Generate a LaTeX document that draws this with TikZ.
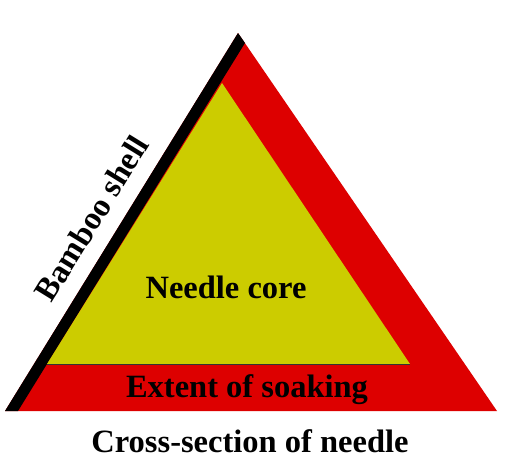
\documentclass[tikz,border=0pt]{standalone}
\usepackage{fontspec}
\setmainfont{Liberation Serif}
\usepackage{xcolor}
\usetikzlibrary{calc}

\definecolor{soakred}{RGB}{221,0,0}
\definecolor{coreyellow}{RGB}{204,204,0}

\begin{document}
\begin{tikzpicture}[x=1pt, y=-1pt,
    bigtext/.style={font=\fontsize{32.5}{36}\selectfont\bfseries, inner sep=0pt, anchor=base}]
    \useasboundingbox (0,0) rectangle (506,463);

    % outer triangle and the shell strip
    \coordinate (top) at (238,33);
    \coordinate (left) at (5,411);
    \coordinate (right) at (497,411);
    \coordinate (shellin) at (18,411);
    \coordinate (shelltop) at (245,43);
    \fill[soakred] (top) -- (left) -- (right) -- cycle;
    \fill[black] (top) -- (left) -- (shellin) -- (shelltop) -- cycle;

    % core
    \coordinate (coretop) at (222,83);
    \coordinate (coreleft) at (47,364);
    \coordinate (coreright) at (410,364);
    \fill[coreyellow] (coretop) -- (coreleft) -- (coreright) -- cycle;
    \draw[line width=0.8pt, black!80] (coreleft) -- (coreright);

    \node[bigtext] (core) at (226,298) {Needle core};
    \node[bigtext] (soak) at (247,397) {Extent of soaking};
    \node[bigtext] (title) at (250,452) {Cross-section of needle};
    \node[bigtext, rotate=58.35] (shell) at (101,224) {Bamboo shell};
\end{tikzpicture}
\end{document}
